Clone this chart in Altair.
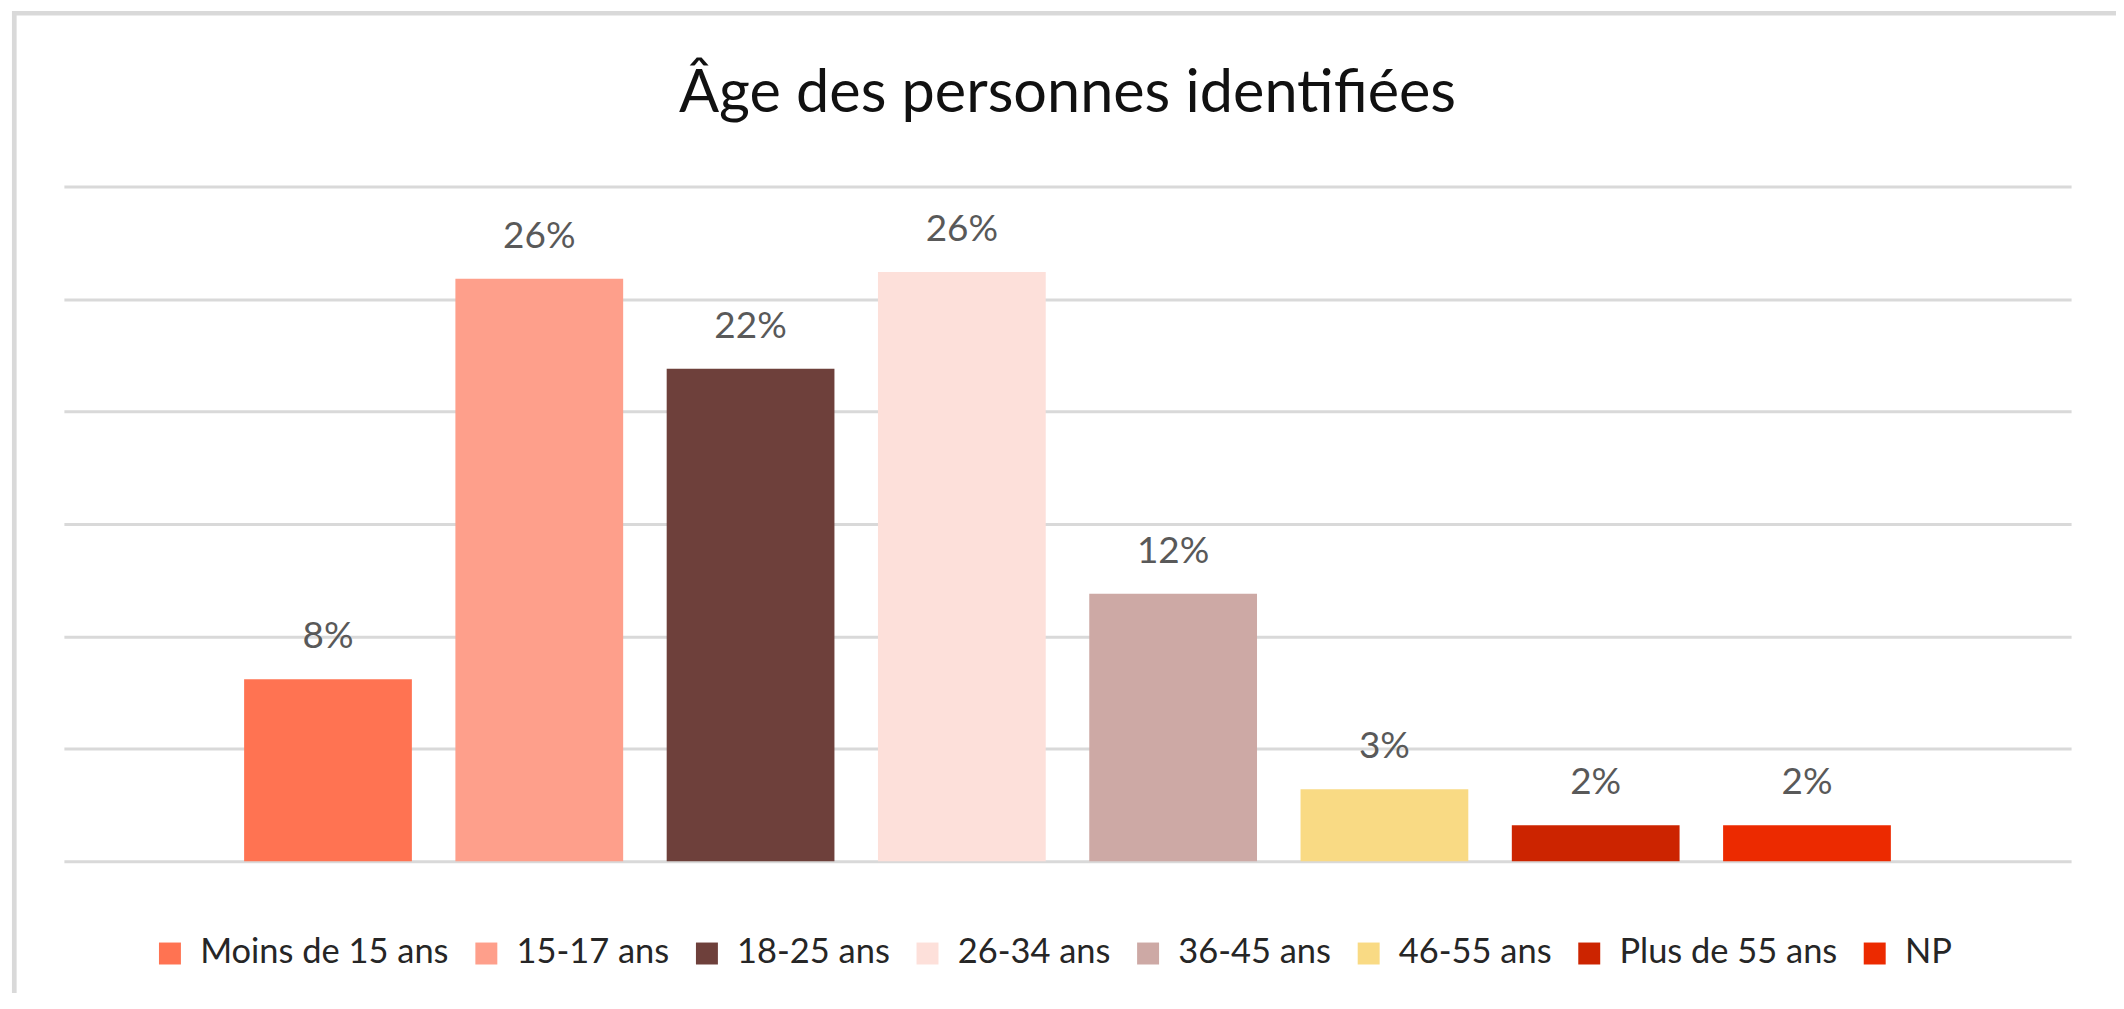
import altair as alt
import pandas as pd

categories = ["Moins de 15 ans", "15-17 ans", "18-25 ans", "26-34 ans",
              "36-45 ans", "46-55 ans", "Plus de 55 ans", "NP"]
shares = [0.081, 0.259, 0.219, 0.262, 0.119, 0.032, 0.016, 0.016]
colors = ["#FF7352", "#FE9F8B", "#6E403B", "#FDE0DA",
          "#CDA9A5", "#F9DA84", "#CC2400", "#EC2A00"]
grid_values = [0, 0.05, 0.10, 0.15, 0.20, 0.25, 0.30]

df = pd.DataFrame({"cat": categories, "share": shares})

FONT = "Lato"

x_enc = alt.X("cat:N", sort=categories, axis=None,
              scale=alt.Scale(paddingInner=0.206, paddingOuter=0.853))
y_enc = alt.Y("share:Q",
              scale=alt.Scale(domain=[0, 0.30], nice=False),
              axis=alt.Axis(values=grid_values, labels=False, ticks=False,
                            domain=False, grid=True, gridColor="#D9D9D9",
                            gridWidth=3, title=None))

bars = alt.Chart(df).mark_bar().encode(
    x=x_enc,
    y=y_enc,
    color=alt.Color("cat:N", sort=categories,
                    scale=alt.Scale(domain=categories, range=colors),
                    legend=alt.Legend(title=None, orient="none",
                                      direction="horizontal",
                                      legendX=89, legendY=751,
                                      symbolType="square", symbolSize=484,
                                      symbolStrokeWidth=0,
                                      labelFont=FONT, labelFontSize=34.5,
                                      labelColor="#262626", labelLimit=0,
                                      labelOffset=13, columnPadding=20,
                                      padding=0, columns=8)),
)

labels = alt.Chart(df).mark_text(
    baseline="alphabetic", dy=-31, font=FONT, fontSize=37, color="#595959"
).encode(
    x=alt.X("cat:N", sort=categories, axis=None,
            scale=alt.Scale(paddingInner=0.206, paddingOuter=0.853)),
    y=alt.Y("share:Q", scale=alt.Scale(domain=[0, 0.30], nice=False)),
    text=alt.Text("share:Q", format=".0%"),
)

frame = alt.Chart(pd.DataFrame({"f": [0]})).mark_rect(
    fillOpacity=0, stroke="#D9D9D9", strokeWidth=4.7
).encode(
    x=alt.value(-49.7), x2=alt.value(2200),
    y=alt.value(-173.7), y2=alt.value(1000),
)

chart = alt.layer(frame, bars, labels).properties(
    width=2011, height=676,
    title=alt.TitleParams("Âge des personnes identifiées", font=FONT,
                          fontSize=59.5, fontWeight="normal", color="#111111",
                          anchor="middle", baseline="alphabetic", offset=-161),
    autosize=alt.AutoSizeParams(type="none"),
    padding={"left": 56, "top": 178, "right": 45, "bottom": 131},
).configure_view(stroke=None)

chart.save("out.html", embed_options={"renderer": "svg", "actions": False})
